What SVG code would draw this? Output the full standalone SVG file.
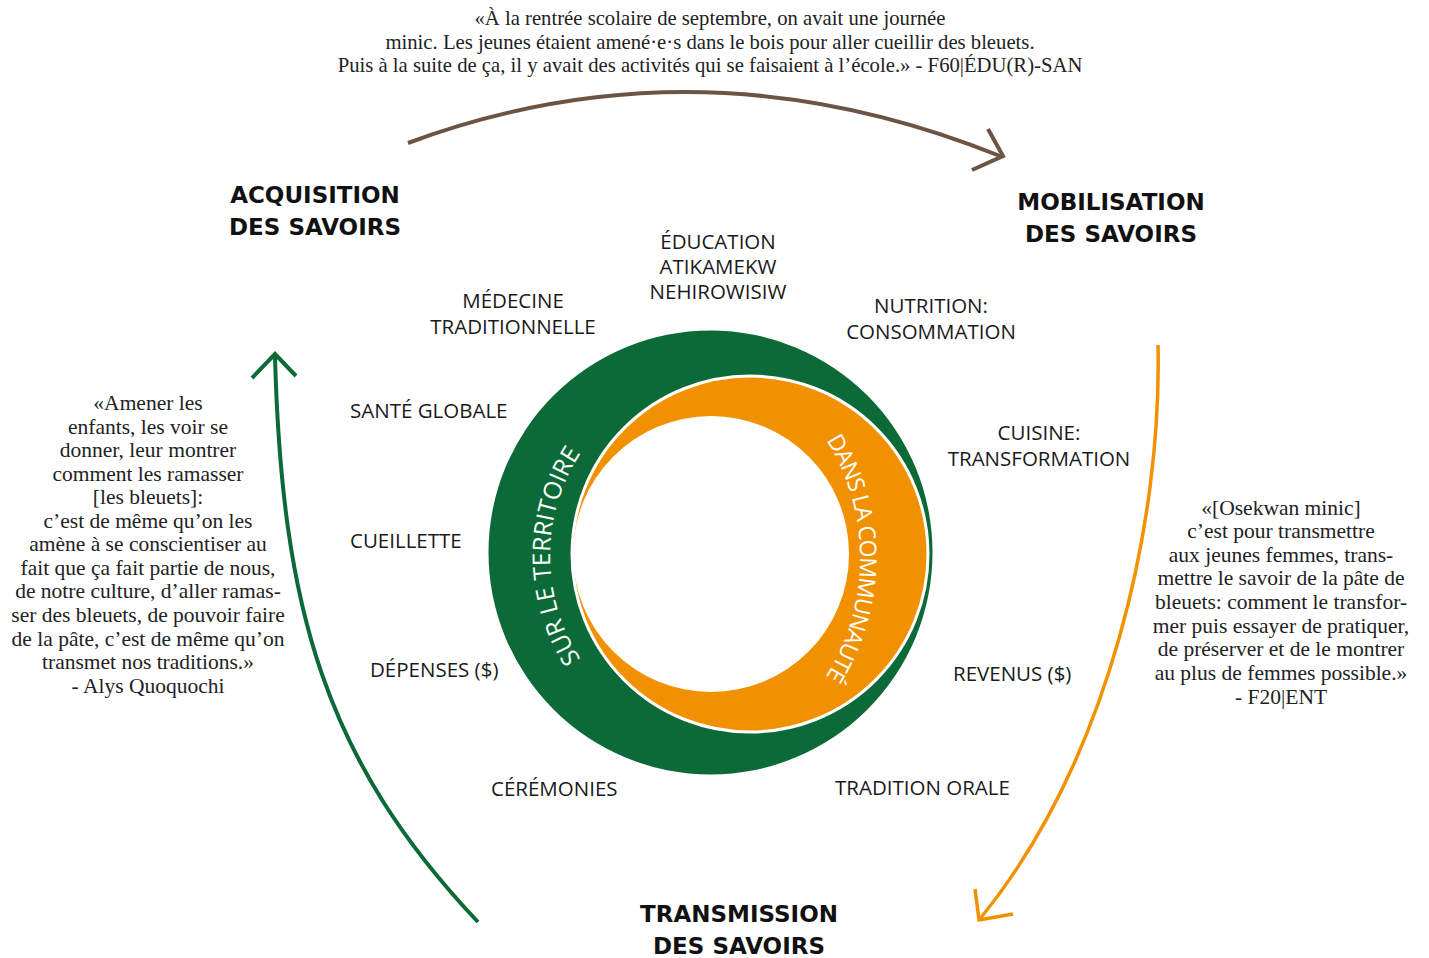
<svg xmlns="http://www.w3.org/2000/svg" width="1429" height="958" viewBox="0 0 1429 958">
  <style>
    .lbl { font-family: "Open Sans", "Noto Sans", sans-serif; font-size: 20.5px; fill: #1a1a1a; }
    .mid { text-anchor: middle; }
    .head { font-family: "DejaVu Sans", "Open Sans", sans-serif; font-weight: 700; font-size: 23px; fill: #111; text-anchor: middle; }
    .quote { font-family: "Liberation Serif", "DejaVu Serif", serif; font-size: 21.5px; fill: #222222; text-anchor: middle; }
    .quote-top { font-size: 20.7px; }
    .ring-txt { font-family: "Open Sans", "Noto Sans", sans-serif; fill: #ffffff; text-anchor: middle; }
    .arrow { fill: none; stroke-linecap: butt; stroke-linejoin: miter; }
  </style>
  <defs>
    <path id="arcLeft" d="M617.2,700 A188,188 0 0 1 617.2,412"/>
    <path id="arcRight" d="M780.7,387.9 A222,222 0 0 1 780.7,728.1"/>
  </defs>

  <rect width="1429" height="958" fill="#ffffff"/>

  <!-- connectors: the three cycle arrows -->
  <g id="connectors">
    <g id="arrow-acq-mob" class="arrow" stroke="#6b5445" stroke-width="4">
      <path d="M408,143 Q700,35 1000,156"/>
      <polyline points="988,129 1003,156 972,170"/>
    </g>
    <g id="arrow-mob-trans" class="arrow" stroke="#f29100" stroke-width="3.5">
      <path d="M1158,345 C1162,520 1110,760 979,920"/>
      <polyline points="975,889 979,920 1013,914"/>
    </g>
    <g id="arrow-trans-acq" class="arrow" stroke="#0b6a37" stroke-width="4">
      <path d="M478,922 C325,760 282,610 275,357"/>
      <polyline points="252,378 275,354 296,376"/>
    </g>
  </g>

  <!-- central rings -->
  <g id="ring">
    <circle cx="710.5" cy="552.5" r="222" fill="#0b6a37"/>
    <circle cx="750" cy="554" r="178" fill="#f29100" stroke="#ffffff" stroke-width="3"/>
    <circle cx="711" cy="554" r="138" fill="#ffffff"/>
    <text class="ring-txt" font-size="24.5"><textPath href="#arcLeft" startOffset="50%">SUR LE TERRITOIRE</textPath></text>
    <text class="ring-txt" font-size="23" letter-spacing="-0.9"><textPath href="#arcRight" startOffset="50%">DANS LA COMMUNAUTÉ</textPath></text>
  </g>

  <!-- stage headings -->
  <g id="acquisition">
    <text class="head" x="315" y="203">ACQUISITION</text>
    <text class="head" x="315" y="235">DES SAVOIRS</text>
  </g>
  <g id="mobilisation">
    <text class="head" x="1111" y="210">MOBILISATION</text>
    <text class="head" x="1111" y="242">DES SAVOIRS</text>
  </g>
  <g id="transmission">
    <text class="head" x="739" y="922">TRANSMISSION</text>
    <text class="head" x="739" y="954">DES SAVOIRS</text>
  </g>

  <!-- knowledge domains around the ring -->
  <g id="education">
    <text class="lbl mid" x="718" y="249">ÉDUCATION</text>
    <text class="lbl mid" x="718" y="274">ATIKAMEKW</text>
    <text class="lbl mid" x="718" y="299">NEHIROWISIW</text>
  </g>
  <g id="medecine">
    <text class="lbl mid" x="513" y="308">MÉDECINE</text>
    <text class="lbl mid" x="513" y="334">TRADITIONNELLE</text>
  </g>
  <g id="nutrition">
    <text class="lbl mid" x="931" y="313">NUTRITION:</text>
    <text class="lbl mid" x="931" y="339">CONSOMMATION</text>
  </g>
  <g id="sante">
    <text class="lbl" x="350" y="418">SANTÉ GLOBALE</text>
  </g>
  <g id="cuisine">
    <text class="lbl mid" x="1039" y="440">CUISINE:</text>
    <text class="lbl mid" x="1039" y="466">TRANSFORMATION</text>
  </g>
  <g id="cueillette">
    <text class="lbl" x="350" y="548">CUEILLETTE</text>
  </g>
  <g id="depenses">
    <text class="lbl" x="370" y="677">DÉPENSES ($)</text>
  </g>
  <g id="revenus">
    <text class="lbl" x="953" y="681">REVENUS ($)</text>
  </g>
  <g id="ceremonies">
    <text class="lbl" x="491" y="796">CÉRÉMONIES</text>
  </g>
  <g id="tradition-orale">
    <text class="lbl" x="835" y="795">TRADITION ORALE</text>
  </g>

  <!-- quotations -->
  <g id="quote-top" class="quote quote-top">
    <text x="710" y="25">«À la rentrée scolaire de septembre, on avait une journée</text>
    <text x="710" y="49">minic. Les jeunes étaient amené·e·s dans le bois pour aller cueillir des bleuets.</text>
    <text x="710" y="72">Puis à la suite de ça, il y avait des activités qui se faisaient à l’école.» - F60|ÉDU(R)-SAN</text>
  </g>
  <g id="quote-left" class="quote">
    <text x="148" y="410">«Amener les</text>
    <text x="148" y="434">enfants, les voir se</text>
    <text x="148" y="457">donner, leur montrer</text>
    <text x="148" y="481">comment les ramasser</text>
    <text x="148" y="504">[les bleuets]:</text>
    <text x="148" y="528">c’est de même qu’on les</text>
    <text x="148" y="551">amène à se conscientiser au</text>
    <text x="148" y="575">fait que ça fait partie de nous,</text>
    <text x="148" y="598">de notre culture, d’aller ramas-</text>
    <text x="148" y="622">ser des bleuets, de pouvoir faire</text>
    <text x="148" y="646">de la pâte, c’est de même qu’on</text>
    <text x="148" y="669">transmet nos traditions.»</text>
    <text x="148" y="693">- Alys Quoquochi</text>
  </g>
  <g id="quote-right" class="quote">
    <text x="1281" y="515">«[Osekwan minic]</text>
    <text x="1281" y="538">c’est pour transmettre</text>
    <text x="1281" y="562">aux jeunes femmes, trans-</text>
    <text x="1281" y="585">mettre le savoir de la pâte de</text>
    <text x="1281" y="609">bleuets: comment le transfor-</text>
    <text x="1281" y="633">mer puis essayer de pratiquer,</text>
    <text x="1281" y="656">de préserver et de le montrer</text>
    <text x="1281" y="680">au plus de femmes possible.»</text>
    <text x="1281" y="704">- F20|ENT</text>
  </g>
</svg>
